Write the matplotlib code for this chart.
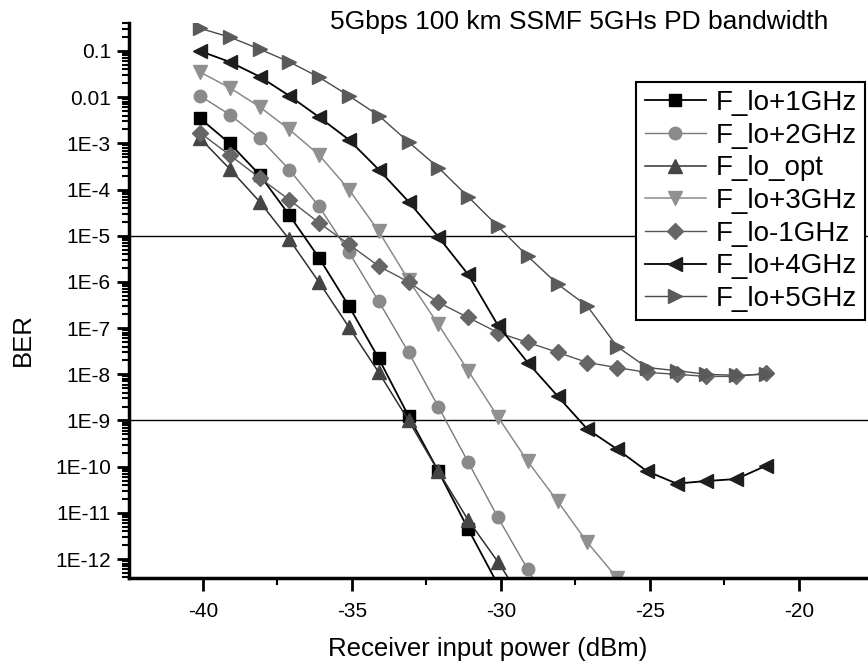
import numpy as np
import matplotlib
matplotlib.use("Agg")
from matplotlib import pyplot as plt
from matplotlib.ticker import FixedLocator, MultipleLocator, NullFormatter

plt.rcParams['font.family'] = ['Liberation Sans', 'DejaVu Sans']

# receiver input power (dBm), shared x grid
power = [-40.1, -39.1, -38.1, -37.1, -36.1, -35.1, -34.1, -33.1, -32.1, -31.1,
         -30.1, -29.1, -28.1, -27.1, -26.1, -25.1, -24.1, -23.1, -22.1, -21.1]

ber_p1 = [3.5e-3, 1.0e-3, 2.1e-4, 2.8e-5, 3.3e-6, 3.0e-7, 2.2e-8, 1.25e-9, 8e-11,
          4.5e-12, 2.8e-13]
ber_p2 = [1.07e-2, 4.2e-3, 1.3e-3, 2.7e-4, 4.3e-5, 4.4e-6, 3.8e-7, 3.0e-8, 2.0e-9,
          1.26e-10, 8e-12, 6e-13, 4.3e-14]
ber_opt = [1.3e-3, 2.8e-4, 5.5e-5, 8.3e-6, 9.8e-7, 1.05e-7, 1.1e-8, 1.0e-9, 8e-11,
           7e-12, 8.7e-13, 8.7e-14]
ber_p3 = [3.5e-2, 1.6e-2, 6.2e-3, 2.0e-3, 5.6e-4, 1.0e-4, 1.25e-5, 1.1e-6, 1.2e-7,
          1.2e-8, 1.2e-9, 1.3e-10, 1.8e-11, 2.3e-12, 3.9e-13]
ber_m1 = [1.7e-3, 5.6e-4, 1.8e-4, 6e-5, 1.9e-5, 6.5e-6, 2.2e-6, 1.0e-6, 3.6e-7, 1.7e-7,
          8e-8, 4.9e-8, 3e-8, 1.8e-8, 1.4e-8, 1.1e-8, 1.0e-8, 9e-9, 9e-9, 1.05e-8]
ber_p4 = [0.1, 5.8e-2, 2.8e-2, 1.07e-2, 3.7e-3, 1.2e-3, 2.7e-4, 5.5e-5, 9.5e-6, 1.45e-6,
          1.15e-7, 1.8e-8, 3.4e-9, 6.5e-10, 2.4e-10, 8e-11, 4.3e-11, 4.9e-11, 5.4e-11, 1.05e-10]
ber_p5 = [0.31, 0.2, 0.11, 5.8e-2, 2.7e-2, 1.07e-2, 4e-3, 1.07e-3, 3e-4, 7e-5,
          1.6e-5, 3.6e-6, 9e-7, 3e-7, 4e-8, 1.4e-8, 1.2e-8, 1.0e-8, 9.5e-9, 1.0e-8]

series = [
    ('F_lo+1GHz', ber_p1, 's', '#000000', '#000000', 1.3),
    ('F_lo+2GHz', ber_p2, 'o', '#7a7a7a', '#8a8a8a', 1.0),
    ('F_lo_opt', ber_opt, '^', '#303030', '#454545', 1.1),
    ('F_lo+3GHz', ber_p3, 'v', '#8a8a8a', '#909090', 1.1),
    ('F_lo-1GHz', ber_m1, 'D', '#555555', '#666666', 1.0),
    ('F_lo+4GHz', ber_p4, '<', '#000000', '#1e1e1e', 1.3),
    ('F_lo+5GHz', ber_p5, '>', '#4a4a4a', '#5a5a5a', 1.0),
]

fig = plt.figure(figsize=(8.68, 6.71), dpi=100)
ax = fig.add_axes([129 / 868, 1 - 578 / 671, 1 - 129 / 868, (578 - 23) / 671])

for label, ber, mk, lc, mc, lw in series:
    ms = 9 if mk in ('s', 'o') else (8.5 if mk == 'D' else 10.5)
    ax.plot(power[:len(ber)], ber, color=lc, lw=lw, marker=mk, ms=ms,
            markerfacecolor=mc, markeredgecolor=mc, label=label)

ax.axhline(1e-5, color='black', lw=1.0, zorder=0)
ax.axhline(1e-9, color='black', lw=1.0, zorder=0)

ax.set_yscale('log')
ax.set_xlim(-42.48, -17.68)
ax.set_ylim(10 ** -12.41, 10 ** -0.394)

yt = [1e-1, 1e-2, 1e-3, 1e-4, 1e-5, 1e-6, 1e-7, 1e-8, 1e-9, 1e-10, 1e-11, 1e-12]
ylab = ['0.1', '0.01', '1E-3', '1E-4', '1E-5', '1E-6', '1E-7', '1E-8', '1E-9',
        '1E-10', '1E-11', '1E-12']
ax.set_yticks(yt, ylab)
minor = [m * 10.0 ** e for e in range(-13, 0) for m in range(2, 10)]
ax.yaxis.set_minor_locator(FixedLocator(minor))
ax.yaxis.set_minor_formatter(NullFormatter())
ax.set_xticks([-40, -35, -30, -25, -20], ['-40', '-35', '-30', '-25', '-20'])
ax.xaxis.set_minor_locator(MultipleLocator(2.5))

ax.tick_params(which='major', direction='out', length=9, width=2, labelsize=15)
ax.tick_params(axis='x', which='major', pad=8)
ax.tick_params(axis='y', which='major', pad=4)
ax.tick_params(which='minor', direction='out', length=5, width=1.5)

for s in ('top', 'right'):
    ax.spines[s].set_visible(False)
for s in ('left', 'bottom'):
    ax.spines[s].set_linewidth(2.5)

leg = ax.legend(loc='upper right', bbox_to_anchor=(0.996, 0.894), borderaxespad=0,
                fontsize=20, frameon=True, fancybox=False, handlelength=2.2,
                handletextpad=0.35, labelspacing=0.24, borderpad=0.3, framealpha=1)
leg.get_frame().set_edgecolor('black')
leg.get_frame().set_linewidth(1.5)

fig.text(579 / 868, 1 - 22 / 671, '5Gbps 100 km SSMF 5GHs PD bandwidth',
         ha='center', va='center', fontsize=19)
fig.text(488 / 868, 1 - 649 / 671, 'Receiver input power (dBm)',
         ha='center', va='center', fontsize=18.5)
fig.text(23 / 868, 1 - 340 / 671, 'BER', rotation=90,
         ha='center', va='center', fontsize=18.5)

fig.savefig('out.png', dpi=100)
